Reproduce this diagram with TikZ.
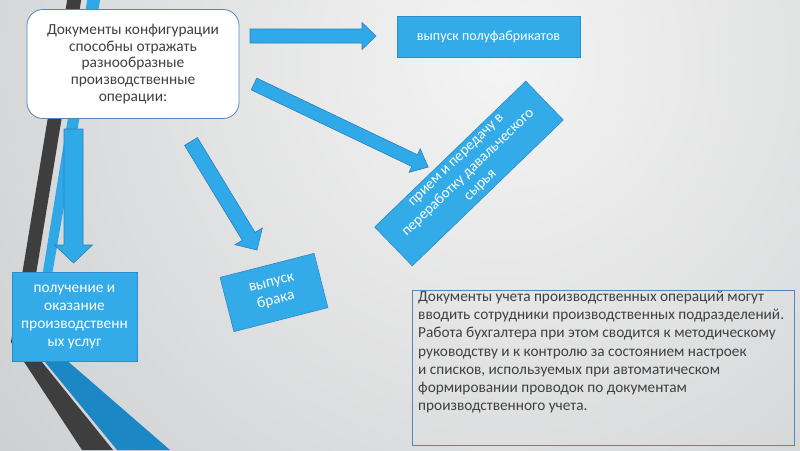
\documentclass[tikz,border=0pt]{standalone}
\usepackage{fontspec}
\setmainfont{Carlito}
\definecolor{bgin}{HTML}{F4F4F4}
\definecolor{bgout}{HTML}{A6A9AC}
\definecolor{stripedark}{HTML}{3E3E3E}
\definecolor{stripeblue}{HTML}{2EA8E6}
\definecolor{stripeblue2}{HTML}{1B87C5}
\definecolor{arrfill}{HTML}{30A9E8}
\definecolor{arrline}{HTML}{2C80BC}
\definecolor{boxfill}{HTML}{33ABE9}
\definecolor{boxline}{HTML}{2D8CC9}
\definecolor{frameline}{HTML}{5487B6}
\definecolor{txtgrey}{HTML}{404040}
\tikzset{
  arrowbody/.style={fill=arrfill,draw=arrline,line width=0.6pt,line join=miter},
  bluebox/.style={fill=boxfill,draw=boxline,line width=0.6pt,text=white,align=center,inner sep=2pt},
}
\newcommand\blockarr[6]{%
  \begin{scope}[shift={#1},rotate=-#2]
    \draw[arrowbody] (0,#4) -- ({#3-#6},#4) -- ({#3-#6},#5) -- (#3,0) -- ({#3-#6},-#5) -- ({#3-#6},-#4) -- (0,-#4) -- cycle;
  \end{scope}}
\begin{document}
\begin{tikzpicture}[x=1pt,y=-1pt]
\useasboundingbox (0,0) rectangle (800,450);
\begin{scope}
\clip (0,0) rectangle (800,450);
\fill[bgout] (0,0) rectangle (800,450);
\shade[inner color=bgin,outer color=bgout] (500,60) circle (1300);
% decorative stripes
\fill[stripedark] (68,-5) -- (11,342) -- (82,450) -- (113,450) -- (25,341) -- (82,-5) -- cycle;
\fill[stripeblue] (88,-5) -- (31,345) -- (41,338) -- (101,-5) -- cycle;
\fill[stripeblue2] (31,345) -- (117,450) -- (170,450) -- (41,338) -- cycle;
\end{scope}
% block arrows
\blockarr{(250,36)}{0}{126}{7}{13.5}{14}
\blockarr{(254,84)}{25.5}{193}{6.5}{13}{15}
\blockarr{(191,141.5)}{58.7}{127}{7.5}{16}{16}
\blockarr{(73.5,129)}{90}{134}{9.5}{19}{18}
% main box
\node[draw=frameline,line width=0.8pt,fill=white,rounded corners=16pt,
      minimum width=212pt,minimum height=109pt,align=center,text=txtgrey,
      font=\fontsize{15.4}{16.8}\selectfont] (main) at (133,64)
  {Документы конфигурации\\способны отражать\\разнообразные\\производственные\\операции:};
\node[bluebox,minimum width=183pt,minimum height=41pt,font=\fontsize{14}{17}\selectfont]
  (semi) at (488.5,36.5) {выпуск полуфабрикатов};
\node[bluebox,minimum width=125pt,minimum height=89pt,font=\fontsize{15.4}{17.7}\selectfont]
  (serv) at (74.5,317) {получение и\\оказание\\производственн\\ых услуг};
\node[bluebox,minimum width=97pt,minimum height=56pt,rotate=14.3,font=\fontsize{15.4}{18}\selectfont]
  (defect) at (274,292.5) {выпуск\\брака};
\node[bluebox,minimum width=210pt,minimum height=54pt,rotate=44,font=\fontsize{15}{17.5}\selectfont]
  (raw) at (469,173.5) {прием и передачу в\\переработку давальческого\\сырья};
% note box
\node[draw=frameline,line width=0.8pt,minimum width=382pt,minimum height=155pt,anchor=north west,inner sep=0pt]
  (notebox) at (412,290) {};
\node[anchor=north west,align=left,text=txtgrey,inner sep=0pt,font=\fontsize{15.3}{18.2}\selectfont]
  (note) at (418,291) {Документы учета производственных операций могут\\
вводить сотрудники производственных подразделений.\\
Работа бухгалтера при этом сводится к методическому\\
руководству и к контролю за состоянием настроек\\
и списков, используемых при автоматическом\\
формировании проводок по документам\\
производственного учета.};
\end{tikzpicture}
\end{document}
